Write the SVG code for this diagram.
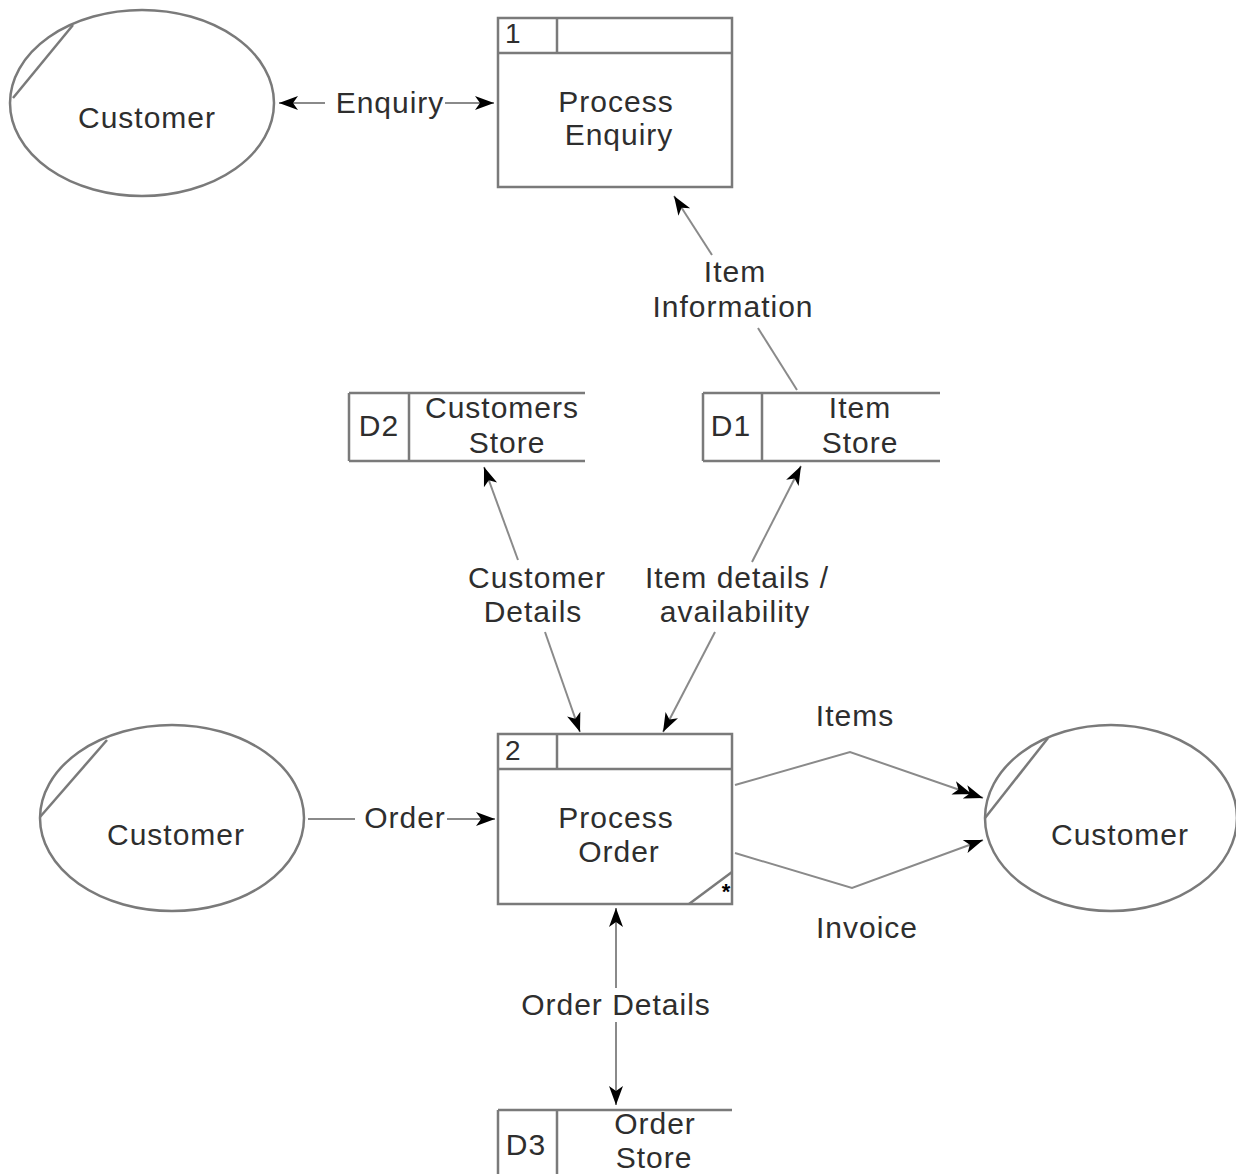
<svg xmlns="http://www.w3.org/2000/svg" width="1236" height="1174" viewBox="0 0 1236 1174">
<style>
  .t{font-family:"Liberation Sans",Arial,sans-serif;font-size:30px;letter-spacing:1px;fill:#2e2e2e;text-anchor:middle}
  .n{font-family:"Liberation Sans",Arial,sans-serif;font-size:28px;fill:#2e2e2e}
  .shape{fill:#fff;stroke:#7a7a7a;stroke-width:2.5}
  .ln{fill:none;stroke:#7a7a7a;stroke-width:2.5}
  .c{fill:none;stroke:#8a8a8a;stroke-width:2}
  .a{marker-end:url(#ah)}
</style>
<defs>
  <marker id="ah" markerUnits="userSpaceOnUse" markerWidth="22" markerHeight="16" refX="19" refY="8" orient="auto" overflow="visible">
    <path d="M0,1 L19,8 L0,15 L5,8 Z" fill="#000"/>
  </marker>
  <marker id="ah2" markerUnits="userSpaceOnUse" markerWidth="34" markerHeight="16" refX="31" refY="8" orient="auto" overflow="visible">
    <path d="M0,1 L19,8 L0,15 L5,8 Z M12,1 L31,8 L12,15 L17,8 Z" fill="#000"/>
  </marker>
</defs>

<g id="customer-1">
  <ellipse class="shape" cx="142" cy="103" rx="132" ry="93"/>
  <line class="ln" x1="13" y1="98" x2="73" y2="25"/>
  <text class="t" x="147" y="128">Customer</text>
</g>

<g id="process-1">
  <rect class="shape" x="498" y="18" width="234" height="169"/>
  <line class="ln" x1="498" y1="53" x2="732" y2="53"/>
  <line class="ln" x1="557" y1="18" x2="557" y2="53"/>
  <text class="n" x="505" y="43">1</text>
  <text class="t" x="616" y="112">Process</text>
  <text class="t" x="619" y="145">Enquiry</text>
</g>

<g id="store-d2">
  <path class="ln" d="M349,393 H585 M349,461 H585 M349,393 V461 M409,393 V461"/>
  <text class="t" x="379" y="436">D2</text>
  <text class="t" x="502" y="418">Customers</text>
  <text class="t" x="507" y="453">Store</text>
</g>

<g id="store-d1">
  <path class="ln" d="M703,393 H940 M703,461 H940 M703,393 V461 M762,393 V461"/>
  <text class="t" x="731" y="436">D1</text>
  <text class="t" x="860" y="418">Item</text>
  <text class="t" x="860" y="453">Store</text>
</g>

<g id="customer-2">
  <ellipse class="shape" cx="172" cy="818" rx="132" ry="93"/>
  <line class="ln" x1="40" y1="817" x2="107" y2="740"/>
  <text class="t" x="176" y="845">Customer</text>
</g>

<g id="process-2">
  <rect class="shape" x="498" y="734" width="234" height="170"/>
  <line class="ln" x1="498" y1="769" x2="732" y2="769"/>
  <line class="ln" x1="557" y1="734" x2="557" y2="769"/>
  <line class="ln" x1="689" y1="904" x2="732" y2="872"/>
  <text class="n" x="505" y="760">2</text>
  <text class="t" x="616" y="828">Process</text>
  <text class="t" x="619" y="862">Order</text>
  <text x="726" y="899" style="font-family:'Liberation Sans',Arial,sans-serif;font-size:22px;font-weight:bold;fill:#000;text-anchor:middle">*</text>
</g>

<g id="customer-3">
  <ellipse class="shape" cx="1111" cy="818" rx="126" ry="93"/>
  <line class="ln" x1="985" y1="818" x2="1048" y2="738"/>
  <text class="t" x="1120" y="845">Customer</text>
</g>

<g id="store-d3">
  <path class="ln" d="M498,1110 H732 M498,1110 V1174 M557,1110 V1174"/>
  <text class="t" x="526" y="1155">D3</text>
  <text class="t" x="655" y="1134">Order</text>
  <text class="t" x="654" y="1168">Store</text>
</g>

<g id="connectors">
  <line class="c a" x1="325" y1="103" x2="279" y2="103"/>
  <line class="c a" x1="445" y1="103" x2="494" y2="103"/>
  <text class="t" x="390" y="113">Enquiry</text>

  <line class="c" x1="797" y1="390" x2="758" y2="328"/>
  <line class="c a" x1="712" y1="255" x2="674" y2="196"/>
  <text class="t" x="735" y="282">Item</text>
  <text class="t" x="733" y="317">Information</text>

  <line class="c a" x1="518" y1="560" x2="484" y2="467"/>
  <line class="c a" x1="545" y1="632" x2="580" y2="732"/>
  <text class="t" x="537" y="588">Customer</text>
  <text class="t" x="533" y="622">Details</text>

  <line class="c a" x1="752" y1="562" x2="801" y2="466"/>
  <line class="c a" x1="715" y1="632" x2="663" y2="732"/>
  <text class="t" x="737" y="588">Item details /</text>
  <text class="t" x="735" y="622">availability</text>

  <line class="c" x1="308" y1="819" x2="355" y2="819"/>
  <line class="c a" x1="447" y1="819" x2="495" y2="819"/>
  <text class="t" x="405" y="828">Order</text>

  <polyline class="c" points="735,785 850,752 983,798" marker-end="url(#ah2)"/>
  <text class="t" x="855" y="726">Items</text>

  <polyline class="c a" points="735,853 852,888 983,840"/>
  <text class="t" x="867" y="938">Invoice</text>

  <line class="c a" x1="616" y1="988" x2="616" y2="908"/>
  <line class="c a" x1="616" y1="1022" x2="616" y2="1105"/>
  <text class="t" x="616" y="1015">Order Details</text>
</g>
</svg>
